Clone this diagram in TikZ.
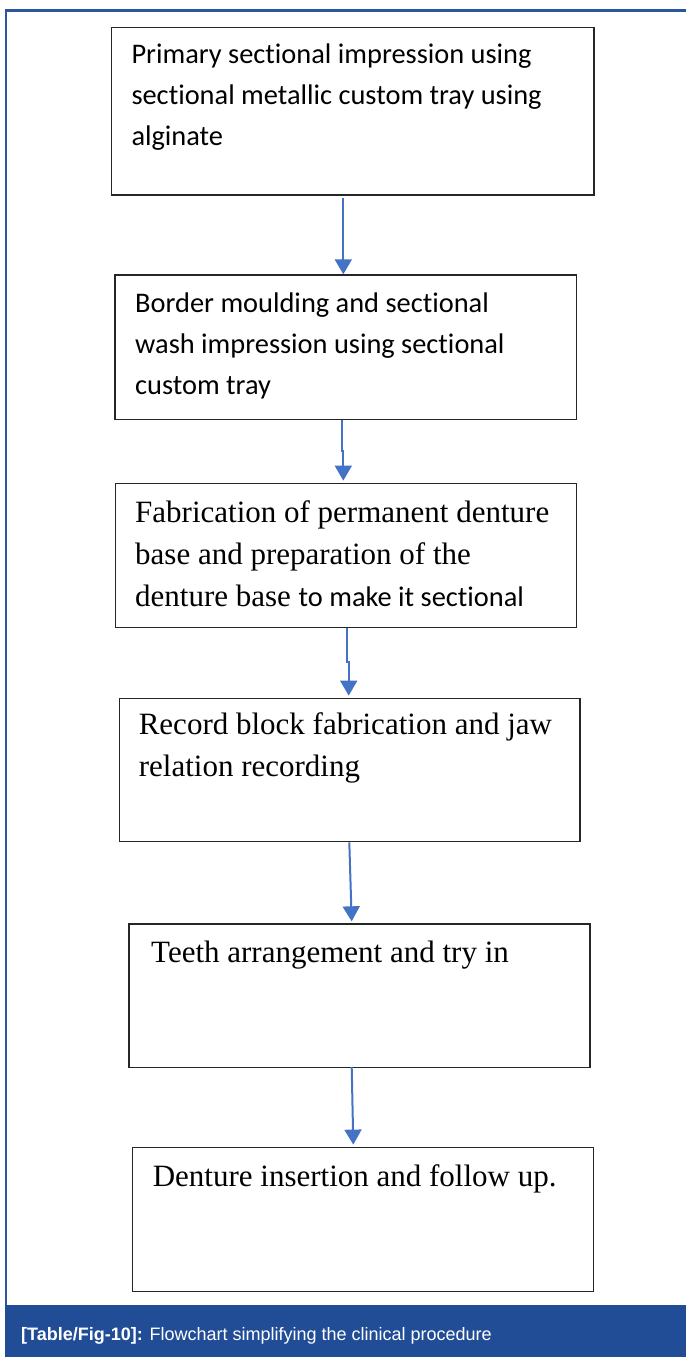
\documentclass[tikz,border=0pt]{standalone}
\usepackage{fontspec}
\setmainfont{Liberation Serif}
\newfontfamily\boxsans[Ligatures=NoCommon]{Carlito}
\newfontfamily\capfont{Liberation Sans}
\usetikzlibrary{arrows.meta}
\definecolor{framblue}{RGB}{42,86,160}
\definecolor{capblue}{RGB}{33,76,150}
\definecolor{arrblue}{RGB}{68,114,196}
\tikzset{
  stepbox/.style={draw=black!85, line width=1.4pt, rectangle, inner sep=0pt},
  steptext/.style={anchor=base west, inner sep=0pt},
  flowarrow/.style={draw=arrblue, line width=2pt, -{Triangle[width=17pt,length=15pt]}}
}
\newcommand{\sanslines}[1]{\parbox[t]{450pt}{\boxsans\fontsize{28.4}{41}\selectfont #1}}
\newcommand{\seriflines}[1]{\parbox[t]{450pt}{\fontsize{31}{42}\selectfont #1}}
\begin{document}
\begin{tikzpicture}[x=1pt,y=-1pt]
\useasboundingbox (0,0) rectangle (686,1357);
\draw[framblue, line width=3pt] (5,10.5) -- (686,10.5);
\draw[framblue, line width=2pt] (6,9) -- (6,1306);
\fill[capblue] (5,1305) rectangle (686,1357);

\node[stepbox, minimum width=482.3pt, minimum height=167.7pt] (b1) at (352.85,111.2) {};
\node[stepbox, minimum width=461.7pt, minimum height=144.3pt] (b2) at (345.85,347.15) {};
\node[stepbox, minimum width=461pt, minimum height=144pt] (b3) at (346.2,555.3) {};
\node[stepbox, minimum width=460.7pt, minimum height=143.4pt] (b4) at (349.65,770) {};
\node[stepbox, minimum width=461pt, minimum height=143.3pt] (b5) at (359.5,995.65) {};
\node[stepbox, minimum width=460.6pt, minimum height=144.4pt] (b6) at (363,1219.5) {};

\node[steptext] (t1) at ([xshift=20.3pt,yshift=-37pt]b1.north west)
  {\sanslines{Primary sectional impression using\\sectional metallic custom tray using\\alginate}};
\node[steptext] (t2) at ([xshift=20.7pt,yshift=-38pt]b2.north west)
  {\sanslines{Border moulding and sectional\\wash impression using sectional\\custom tray}};
\node[steptext] (t3) at ([xshift=20pt,yshift=-40pt]b3.north west)
  {\seriflines{Fabrication of permanent denture\\base and preparation of the\\denture base {\boxsans\fontsize{28.4}{41}\selectfont to make it sectional}}};
\node[steptext] (t4) at ([xshift=20pt,yshift=-37pt]b4.north west)
  {\seriflines{Record block fabrication and jaw\\relation recording}};
\node[steptext] (t5) at ([xshift=22.7pt,yshift=-39pt]b5.north west)
  {\seriflines{Teeth arrangement and try in}};
\node[steptext] (t6) at ([xshift=20.6pt,yshift=-40pt]b6.north west)
  {\seriflines{Denture insertion and follow up.}};

\draw[flowarrow] ([xshift=-9.55pt,yshift=-2pt]b1.south) -- ([xshift=-2.55pt]b2.north);
\draw[flowarrow] ([xshift=-4.15pt]b2.south) -- ++(0,31) -| ([xshift=-2.9pt,yshift=2pt]b3.north);
\draw[flowarrow] ([xshift=1.1pt]b3.south) -- ++(0,34) -| ([xshift=-0.95pt,yshift=2pt]b4.north);
\draw[flowarrow] ([xshift=-0.35pt]b4.south) -- ([xshift=-7.8pt,yshift=2pt]b5.north);
\draw[flowarrow] ([xshift=-7.8pt,yshift=1pt]b5.south) -- ([xshift=-9.7pt,yshift=2pt]b6.north);

\node[anchor=base west, inner sep=0pt, text=white] (cap) at (21,1340)
  {\capfont\fontsize{18}{20}\selectfont\textbf{[Table/Fig-10]:} Flowchart simplifying the clinical procedure};
\end{tikzpicture}
\end{document}
